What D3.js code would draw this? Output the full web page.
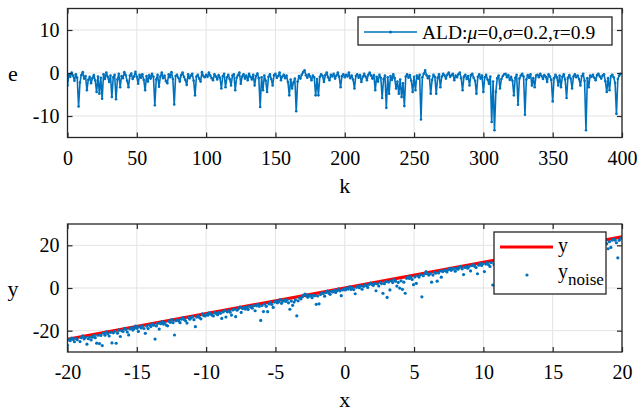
<!DOCTYPE html>
<html>
<head>
<meta charset="utf-8">
<script src="https://cdn.jsdelivr.net/npm/d3@7"></script>
<style>
	body { margin:0; background:#fff; }
	svg text { font-family: "Liberation Serif", "DejaVu Serif", serif; fill:#000; }
</style>
</head>
<body>
<script>
// data //{{{
var kDomain=[0,400];
var kTicks=[0,50,100,150,200,250,300,350,400];
var eDomain=[-15,15];
var eTicks=[-10,0,10];
// ALD noise e(k), k=0..399
var eVals=[
	-2.9,-0.4,-0.9, 0.1,-0.6,-1.8,-0.3,-1.1,-7.8,-2.2,-0.5, 0.2,-1.3,-0.7,-4.0,-1.6,-0.9,-2.4,-1.2,-0.5,
	-1.7,-4.4,-0.8,-4.8,-1.1,-6.0,-0.3,-1.4, 0.1,-0.9,-2.1,-0.6,-5.6,-1.0,-0.4,-6.1,-1.5,-0.2,-3.3,-0.7,
	-1.2, 0.2,-0.5,-1.8,-3.3,-0.6,-0.1,-1.4,-0.8, 0.3,-0.9,-2.5,-0.4,-1.1,-0.3,-1.6,-4.0,-0.7,-2.0,-0.5,
	-1.3,-0.2,-0.9,-7.5,-1.5,-0.4,-3.2,-0.8, 0.1,-1.2,-0.6,-1.9,-2.4,-0.3,-1.0, 0.2,-1.4,-7.3,-0.7,-0.4,
	-1.1,-2.0,-0.5, 0.1,-0.9,-1.6,-2.8,-0.3,-1.2,-0.6,-0.2,-1.8,-5.2,-0.8,-0.4,-1.3,-2.0, 0.2,-0.7,-1.0,
	-0.4,-0.9, 0.1,-0.6,-1.2,-1.7,-0.3,-0.8,-1.5,-0.5,-1.1,-3.6,-0.7,-0.2,-3.3,-1.0,-0.4,-1.4,-2.9,-0.6,
	-0.3,-4.0,-1.1,-0.5, 0.1,-2.5,-0.8,-0.3,-1.3,-0.6,-1.7,-0.2,-0.9,-1.5,-0.4,-2.9,-0.7,-0.1,-1.2,-7.9,
	-1.0,-4.0,-0.6,-1.8,-4.4,-0.9,-0.3,-1.4,-2.9,-0.5,-0.2,-1.1,-0.7, 0.1,-1.7,-0.8,-0.4,-1.2,-0.6,-2.1,
	-5.2,-1.5,-3.6,-2.2,-1.3,-8.9,-2.0,-0.7,-1.3,-0.4, 0.2, 0.6,-0.5,-1.1,-0.3,-0.8,-1.7,-0.6,-1.0,-5.2,
	-1.4,-5.2,-0.9,-0.3,-0.7,-2.1,-0.5, 0.1,-1.0,-1.7,-0.4,-0.8,-0.2,-1.3,-0.6, 0.1,-0.9,-3.3,-0.7,-0.3,
	-1.0,-0.4,-0.8, 0.1,-1.2,-0.6,-1.5,-3.6,-0.7,-0.3,-1.1,-0.5,-2.1,-0.9,-0.2,-0.8,-1.7,-0.4, 0.1,-0.6,
	-1.3,-0.5,-4.0,-0.9,-2.0,-0.4,-1.1,-5.8,-1.4,-0.6,-8.1,-1.0,-4.8,-0.7,-1.6,-0.3,-1.2,-3.6,-2.0,-4.8,
	-1.5,-5.6,-2.4,-7.7,-0.8,-0.3,-1.1,-0.5,-1.8,-4.4,-0.9,-4.0,-0.6,-1.3,-0.4,-10.8,-1.0,-0.2, 0.6,-0.5,
	-1.2,-0.7,-4.8,-1.6,-0.4,-0.9,-4.8,-1.1,-0.3,-3.3,-0.8,-0.2,-0.6,-1.3,-0.4, 0.1,-0.9,-0.5,-0.2,-1.7,
	-0.6,-1.0,-0.3, 0.1,-1.2,-4.0,-0.8,-0.4,-1.4,-0.7,-2.9,-0.5,-0.2,-1.1,-1.8,-4.8,-0.9,-0.3,-1.3,-0.6,
	-4.4,-1.0,-0.4,-1.5,-2.5,-0.8,-11.4,-2.0,-13.3,-4.4,-1.2,-0.6,-3.6,-1.4,-0.7,-0.3,-0.2,-1.0,-0.5,-1.6,
	-0.9,-1.8,-5.2,-1.1,-0.4,-7.4,-1.3,-0.6,-0.2,-0.8,-9.7,-1.5,-0.5,-1.1,-0.3,-2.9,-1.2,-3.3,-0.6,-0.4,
	-1.0,-0.2,-0.7,-1.4,-0.5,-0.9,-2.1,-0.3,-0.8,-1.6,-6.6,-1.2,-0.4,-1.0,-2.9,-0.6,-3.3,-0.9,-0.3,-1.5,
	-5.8,-1.1,-0.5,-1.3,-3.6,-0.8,-0.3,-1.0,-0.6,-1.4,-2.9,-0.7,-0.2,-1.8,-13.3,-1.2,-3.3,-0.6,-0.9,-0.4,
	-1.1,-1.7,-0.5,-0.2,-0.8,-1.3,-0.6,-0.3,-1.9,-4.4,-1.2,-4.0,-0.7,-0.4,-1.0,-2.3,-9.5,-1.4,-0.6,-0.2
];
var xDomain=[-20,20];
var xTicks=[-20,-15,-10,-5,0,5,10,15,20];
var yDomain=[-30,30];
var yTicks=[-20,0,20];
// clean line y=1.2x at the two ends of x
var yLine=[-24,24];
//}}}

var W=639, H=414;
var blue="#0072bd", red="#ff0000", axc="#262626";
var svg=d3.select('body').append('svg').attr('width', W).attr('height', H);
var defs=svg.append('defs');
var clipN=0;

// panel //{{{
function panel(box, xd, yd, xt, yt, xlab, ylab) {
	var p={};
	p.x=d3.scaleLinear().domain(xd).range([box.l, box.r]);
	p.y=d3.scaleLinear().domain(yd).range([box.b, box.t]);
	p.g=svg.append('g');

	var grid=p.g.append('g');
	xt.forEach(function(v){
		grid.append('line').attr('x1', p.x(v)).attr('x2', p.x(v)).attr('y1', box.t).attr('y2', box.b)
			.attr('stroke', '#e3e3e3').attr('stroke-width', 1);
	});
	yt.forEach(function(v){
		grid.append('line').attr('y1', p.y(v)).attr('y2', p.y(v)).attr('x1', box.l).attr('x2', box.r)
			.attr('stroke', '#e3e3e3').attr('stroke-width', 1);
	});

	clipN++;
	defs.append('clipPath').attr('id', 'clip'+clipN).append('rect')
		.attr('x', box.l).attr('y', box.t).attr('width', box.r-box.l).attr('height', box.b-box.t);
	p.data=p.g.append('g').attr('clip-path', 'url(#clip'+clipN+')');

	var fmt=function(d){ return d<0 ? '-'+Math.abs(d) : ''+d; };
	var axB=p.g.append('g').attr('transform', 'translate(0,'+box.b+')')
		.call(d3.axisBottom(p.x).tickValues(xt).tickSize(-5).tickSizeOuter(0).tickPadding(13).tickFormat(fmt));
	var axT=p.g.append('g').attr('transform', 'translate(0,'+box.t+')')
		.call(d3.axisTop(p.x).tickValues(xt).tickSize(-5).tickSizeOuter(0).tickFormat(''));
	var axL=p.g.append('g').attr('transform', 'translate('+box.l+',0)')
		.call(d3.axisLeft(p.y).tickValues(yt).tickSize(-5).tickSizeOuter(0).tickPadding(8).tickFormat(fmt));
	var axR=p.g.append('g').attr('transform', 'translate('+box.r+',0)')
		.call(d3.axisRight(p.y).tickValues(yt).tickSize(-5).tickSizeOuter(0).tickFormat(''));
	[axB, axT, axL, axR].forEach(function(a){
		a.select('.domain').remove();
		a.selectAll('line').attr('stroke', axc).attr('stroke-width', 1.2);
		a.selectAll('text').attr('font-family', '"Liberation Serif", serif').attr('font-size', 20).attr('fill', '#000');
	});

	p.g.append('rect').attr('x', box.l).attr('y', box.t).attr('width', box.r-box.l).attr('height', box.b-box.t)
		.attr('fill', 'none').attr('stroke', axc).attr('stroke-width', 1.3);

	p.g.append('text').attr('x', (box.l+box.r)/2).attr('y', box.b+55).attr('text-anchor', 'middle')
		.attr('font-size', 22).text(xlab);
	p.g.append('text').attr('x', 13).attr('y', (box.t+box.b)/2).attr('text-anchor', 'middle')
		.attr('dominant-baseline', 'central').attr('font-size', 22).text(ylab);
	return p;
}
//}}}
// top: e(k) //{{{
var top_=panel({l:67.5, r:622, t:8.5, b:137.5}, kDomain, eDomain, kTicks, eTicks, 'k', 'e');
var kIdx=d3.range(eVals.length);
top_.data.append('path').datum(kIdx)
	.attr('fill', 'none').attr('stroke', blue).attr('stroke-width', 1.6).attr('stroke-linejoin', 'round')
	.attr('d', d3.line().x(function(k){ return top_.x(k); }).y(function(k){ return top_.y(eVals[k]); }));
top_.data.selectAll('circle').data(kIdx).enter().append('circle')
	.attr('cx', function(k){ return top_.x(k); }).attr('cy', function(k){ return top_.y(eVals[k]); })
	.attr('r', 1.3).attr('fill', blue);

var lg1=top_.g.append('g');
lg1.append('rect').attr('x', 358).attr('y', 17).attr('width', 254).attr('height', 28)
	.attr('fill', '#fff').attr('stroke', axc).attr('stroke-width', 1.3);
lg1.append('line').attr('x1', 364).attr('x2', 417).attr('y1', 32).attr('y2', 32).attr('stroke', blue).attr('stroke-width', 1.6);
lg1.append('circle').attr('cx', 390.5).attr('cy', 32).attr('r', 1.5).attr('fill', blue);
var lt=lg1.append('text').attr('x', 422).attr('y', 38.5).attr('font-size', 19.5);
lt.append('tspan').text('ALD:');
lt.append('tspan').attr('font-style', 'italic').text('μ');
lt.append('tspan').text('=0,');
lt.append('tspan').attr('font-style', 'italic').text('σ');
lt.append('tspan').text('=0.2,');
lt.append('tspan').attr('font-style', 'italic').text('τ');
lt.append('tspan').text('=0.9');
//}}}
// bottom: y and y_noise //{{{
var bot=panel({l:67.5, r:622, t:224, b:352}, xDomain, yDomain, xTicks, yTicks, 'x', 'y');
var n=eVals.length;
var xAt=d3.scaleLinear().domain([0, n-1]).range(xDomain);
var yAt=d3.scaleLinear().domain(xDomain).range(yLine);
bot.data.append('line')
	.attr('x1', bot.x(xDomain[0])).attr('y1', bot.y(yLine[0]))
	.attr('x2', bot.x(xDomain[1])).attr('y2', bot.y(yLine[1]))
	.attr('stroke', red).attr('stroke-width', 3.2);
bot.data.selectAll('circle').data(kIdx).enter().append('circle')
	.attr('cx', function(k){ return bot.x(xAt(k)); })
	.attr('cy', function(k){ return bot.y(yAt(xAt(k))+eVals[k]); })
	.attr('r', 1.6).attr('fill', blue);

var lg2=bot.g.append('g');
lg2.append('rect').attr('x', 494).attr('y', 232).attr('width', 112).attr('height', 62)
	.attr('fill', '#fff').attr('stroke', axc).attr('stroke-width', 1.3);
lg2.append('line').attr('x1', 500).attr('x2', 553).attr('y1', 247).attr('y2', 247).attr('stroke', red).attr('stroke-width', 3.2);
lg2.append('text').attr('x', 558).attr('y', 252).attr('font-size', 20).text('y');
lg2.append('circle').attr('cx', 527).attr('cy', 275).attr('r', 1.6).attr('fill', blue);
var ln=lg2.append('text').attr('x', 558).attr('y', 278).attr('font-size', 20);
ln.append('tspan').text('y');
ln.append('tspan').attr('dy', 7).attr('font-size', 17).text('noise');
//}}}
</script>
</body>
</html>
